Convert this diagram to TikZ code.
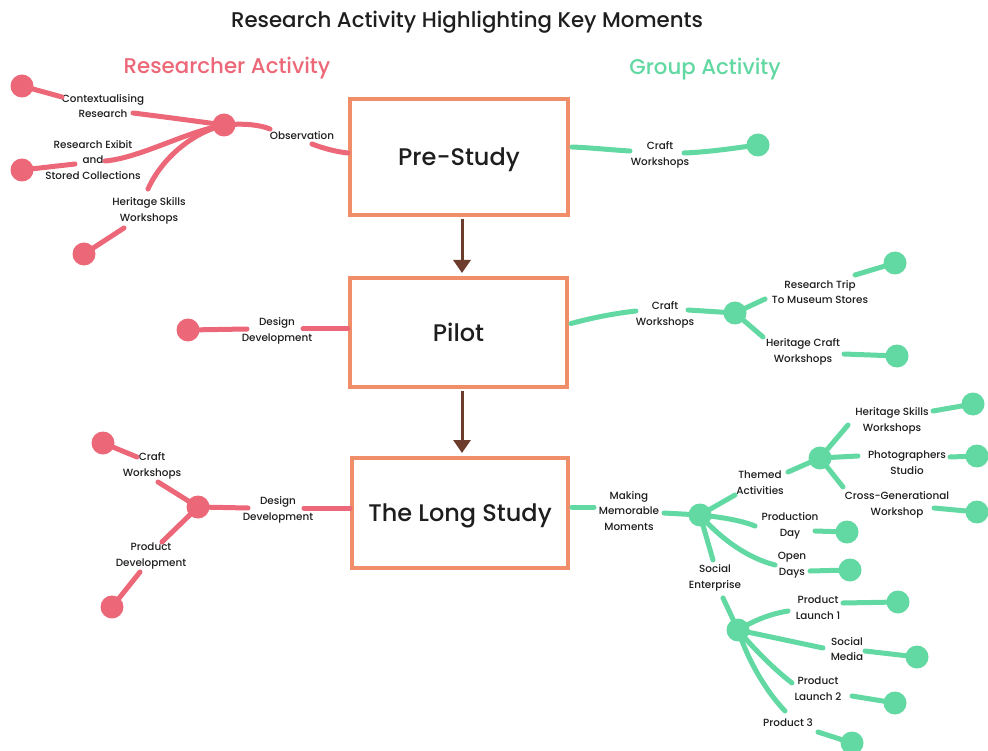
\documentclass[tikz,border=0pt]{standalone}
\usepackage{fontspec}
\setmainfont{Poppins}[UprightFont=* Medium]
\usetikzlibrary{arrows.meta,calc}
\definecolor{rose}{RGB}{236,104,120}
\definecolor{mint}{RGB}{98,216,162}
\definecolor{boxline}{RGB}{240,142,106}
\definecolor{flowbrown}{RGB}{108,60,44}
\definecolor{ink}{RGB}{30,30,30}
\tikzset{
  stage/.style={draw=boxline, line width=4pt, fill=white, text=ink,
    text depth=0pt, font=\fontsize{24}{28}\selectfont},
  lbl/.style={align=center, inner sep=0pt, text=ink,
    font=\fontsize{10.4}{15.8}\selectfont},
  heading/.style={inner sep=0pt, font=\fontsize{21.3}{24}\selectfont},
  rdot/.style={circle, fill=rose, minimum size=23pt, inner sep=0pt},
  gdot/.style={circle, fill=mint, minimum size=23pt, inner sep=0pt},
  rlink/.style={draw=rose, line width=5pt, line cap=round},
  glink/.style={draw=mint, line width=5pt, line cap=round},
  flow/.style={draw=flowbrown, line width=3pt, -{Triangle[width=17pt,length=13pt]}},
}
\begin{document}
\begin{tikzpicture}[x=1pt,y=-1pt]
\useasboundingbox (0,0) rectangle (988,751);
\fill[white] (0,0) rectangle (988,751);

% headings
\node[heading, text=ink] (title) at (467,22) {Research Activity Highlighting Key Moments};
\node[heading, text=rose] (resact) at (227,68) {Researcher Activity};
\node[heading, text=mint] (grpact) at (705,69) {Group Activity};

% study stages
\node[stage, minimum width=218pt, minimum height=116pt] (ps) at (459,157) {Pre-Study};
\node[stage, minimum width=217pt, minimum height=109pt] (pl) at (458.5,332.5) {Pilot};
\node[stage, minimum width=216pt, minimum height=110pt] (ls) at (460,513) {The Long Study};
\draw[flow] ($(ps.south)+(3,2)$) -- ($(pl.north)+(3.5,-3)$);
\draw[flow] ($(pl.south)+(3.5,2)$) -- ($(ls.north)+(2,-3)$);

% ---------- Pre-Study: researcher side ----------
\node[rdot] (hubA) at (224,125) {};
\node[lbl] (obs) at (302,136) {Observation};
\coordinate (obsIn) at (270,129);
\coordinate (obsOut) at (312,144);
\coordinate (psL) at ($(ps.west)+(0,-4)$);
\draw[rlink] (hubA.center) .. controls (245,123) and (260,125) .. (obsIn);
\draw[rlink] (obsOut) .. controls (325,149) and (338,152) .. (psL);

\node[rdot] (dotA1) at (22,86) {};
\node[lbl] (ctx) at (103,106) {Contextualising\\Research};
\coordinate (ctxIn) at (62,97);
\coordinate (ctxOut) at (133,113);
\draw[rlink] (dotA1.center) -- (ctxIn);
\draw[rlink] (ctxOut) .. controls (165,117) and (195,121) .. (hubA.center);

\node[rdot] (dotA2) at (22,170) {};
\node[lbl] (rex) at (93,160) {Research Exibit\\and\\Stored Collections};
\coordinate (rexIn) at (75,164);
\coordinate (rexOut) at (105,161);
\draw[rlink] (dotA2.center) -- (rexIn);
\draw[rlink] (rexOut) .. controls (140,158) and (185,132) .. (hubA.center);

\node[rdot] (dotA3) at (84,254) {};
\node[lbl] (hsk) at (149,211) {Heritage Skills\\Workshops};
\coordinate (hskIn) at (124,228);
\coordinate (hskOut) at (148,189);
\draw[rlink] (dotA3.center) -- (hskIn);
\draw[rlink] (hskOut) .. controls (162,158) and (192,133) .. (hubA.center);

% ---------- Pre-Study: group side ----------
\node[gdot] (dotB1) at (758,145) {};
\node[lbl] (cw1) at (660,155) {Craft\\Workshops};
\coordinate (psR) at ($(ps.east)+(2,-10)$);
\coordinate (cw1In) at (630,151);
\coordinate (cw1Out) at (684,153);
\draw[glink] (psR) .. controls (595,148) and (612,150) .. (cw1In);
\draw[glink] (cw1Out) .. controls (710,152) and (735,148) .. (dotB1.center);

% ---------- Pilot: researcher side ----------
\node[rdot] (dotC1) at (188,330) {};
\node[lbl] (dd1) at (277,331) {Design\\Development};
\coordinate (dd1In) at (247,329);
\coordinate (dd1Out) at (303,329);
\coordinate (plL) at ($(pl.west)+(0,-3.5)$);
\draw[rlink] (dotC1.center) -- (dd1In);
\draw[rlink] (dd1Out) -- (plL);

% ---------- Pilot: group side ----------
\node[gdot] (hubD) at (735,313) {};
\node[lbl] (cw2) at (665,315) {Craft\\Workshops};
\coordinate (plR) at ($(pl.east)+(2,-9)$);
\coordinate (cw2In) at (636,311);
\coordinate (cw2Out) at (688,310);
\draw[glink] (plR) .. controls (595,317) and (618,313) .. (cw2In);
\draw[glink] (cw2Out) -- (hubD.center);

\node[gdot] (dotD1) at (895,263) {};
\node[lbl] (rt) at (820,292) {Research Trip\\To Museum Stores};
\coordinate (rtIn) at (765,299);
\coordinate (rtOut) at (855,275);
\draw[glink] (hubD.center) -- (rtIn);
\draw[glink] (rtOut) -- (dotD1.center);

\node[gdot] (dotD2) at (897,356) {};
\node[lbl] (hc) at (803,352) {Heritage Craft\\Workshops};
\coordinate (hcIn) at (763,337);
\coordinate (hcOut) at (844,354);
\draw[glink] (hubD.center) -- (hcIn);
\draw[glink] (hcOut) -- (dotD2.center);

% ---------- Long Study: researcher side ----------
\node[rdot] (hubE) at (198,507) {};
\node[lbl] (dd2) at (278,510) {Design\\Development};
\coordinate (dd2In) at (248,508);
\coordinate (dd2Out) at (304,508);
\coordinate (lsL) at ($(ls.west)+(0,-5)$);
\draw[rlink] (hubE.center) -- (dd2In);
\draw[rlink] (dd2Out) -- (lsL);

\node[rdot] (dotE1) at (103,443) {};
\node[lbl] (cw3) at (152,466) {Craft\\Workshops};
\coordinate (cw3In) at (137,457);
\coordinate (cw3Out) at (158,482);
\draw[rlink] (dotE1.center) -- (cw3In);
\draw[rlink] (cw3Out) -- (hubE.center);

\node[rdot] (dotE2) at (112,607) {};
\node[lbl] (pd) at (151,556) {Product\\Development};
\coordinate (pdIn) at (140,572);
\coordinate (pdOut) at (162,542);
\draw[rlink] (dotE2.center) -- (pdIn);
\draw[rlink] (pdOut) -- (hubE.center);

% ---------- Long Study: group side ----------
\node[gdot] (hubF) at (700,515) {};
\node[lbl] (mmm) at (629,511) {Making\\Memorable\\Moments};
\coordinate (lsR) at ($(ls.east)+(2,-6)$);
\coordinate (mmmIn) at (594,507);
\coordinate (mmmOut) at (664,513);
\draw[glink] (lsR) -- (mmmIn);
\draw[glink] (mmmOut) -- (hubF.center);

% themed activities branch
\node[gdot] (hubG) at (820,458) {};
\node[lbl] (ta) at (760,483) {Themed\\Activities};
\coordinate (taIn) at (735,495);
\coordinate (taOut) at (788,472);
\draw[glink] (hubF.center) -- (taIn);
\draw[glink] (taOut) -- (hubG.center);

\node[gdot] (dotG1) at (973,404) {};
\node[lbl] (hs2) at (892,421) {Heritage Skills\\Workshops};
\coordinate (hs2In) at (848,425);
\coordinate (hs2Out) at (933,411);
\draw[glink] (hubG.center) -- (hs2In);
\draw[glink] (hs2Out) -- (dotG1.center);

\node[gdot] (dotG2) at (977,456) {};
\node[lbl] (phs) at (907,463) {Photographers\\Studio};
\coordinate (phsIn) at (858,456);
\coordinate (phsOut) at (950,457);
\draw[glink] (hubG.center) -- (phsIn);
\draw[glink] (phsOut) -- (dotG2.center);

\node[gdot] (dotG3) at (977,512) {};
\node[lbl] (cgw) at (897,505) {Cross-Generational\\Workshop};
\coordinate (cgwIn) at (843,487);
\coordinate (cgwOut) at (934,508);
\draw[glink] (hubG.center) -- (cgwIn);
\draw[glink] (cgwOut) -- (dotG3.center);

% production day and open days
\node[gdot] (dotF1) at (847,532) {};
\node[lbl] (pdy) at (790,526) {Production\\Day};
\coordinate (pdyIn) at (755,526);
\coordinate (pdyOut) at (815,531);
\draw[glink] (hubF.center) .. controls (720,517) and (740,520) .. (pdyIn);
\draw[glink] (pdyOut) -- (dotF1.center);

\node[gdot] (dotF2) at (850,570) {};
\node[lbl] (od) at (792,565) {Open\\Days};
\coordinate (odIn) at (775,565);
\coordinate (odOut) at (810,571);
\draw[glink] (hubF.center) .. controls (722,540) and (748,558) .. (odIn);
\draw[glink] (odOut) -- (dotF2.center);

% social enterprise branch
\node[gdot] (hubH) at (738,630) {};
\node[lbl] (se) at (715,578) {Social\\Enterprise};
\coordinate (seIn) at (713,560);
\coordinate (seOut) at (723,598);
\draw[glink] (hubF.center) -- (seIn);
\draw[glink] (seOut) -- (hubH.center);

\node[gdot] (dotH1) at (898,602) {};
\node[lbl] (pl1) at (818,608) {Product\\Launch 1};
\coordinate (pl1In) at (788,611);
\coordinate (pl1Out) at (843,603);
\draw[glink] (hubH.center) .. controls (755,620) and (770,614) .. (pl1In);
\draw[glink] (pl1Out) -- (dotH1.center);

\node[gdot] (dotH2) at (917,657) {};
\node[lbl] (smd) at (847,649) {Social\\Media};
\coordinate (smdIn) at (823,648);
\coordinate (smdOut) at (865,651);
\draw[glink] (hubH.center) -- (smdIn);
\draw[glink] (smdOut) -- (dotH2.center);

\node[gdot] (dotH3) at (895,703) {};
\node[lbl] (pl2) at (818,689) {Product\\Launch 2};
\coordinate (pl2In) at (792,683);
\coordinate (pl2Out) at (852,696);
\draw[glink] (hubH.center) .. controls (755,650) and (775,670) .. (pl2In);
\draw[glink] (pl2Out) -- (dotH3.center);

\node[gdot] (dotH4) at (852,743) {};
\node[lbl] (p3) at (788,723) {Product 3};
\coordinate (p3In) at (785,711);
\coordinate (p3Out) at (818,732);
\draw[glink] (hubH.center) .. controls (748,660) and (765,690) .. (p3In);
\draw[glink] (p3Out) -- (dotH4.center);
\end{tikzpicture}
\end{document}
